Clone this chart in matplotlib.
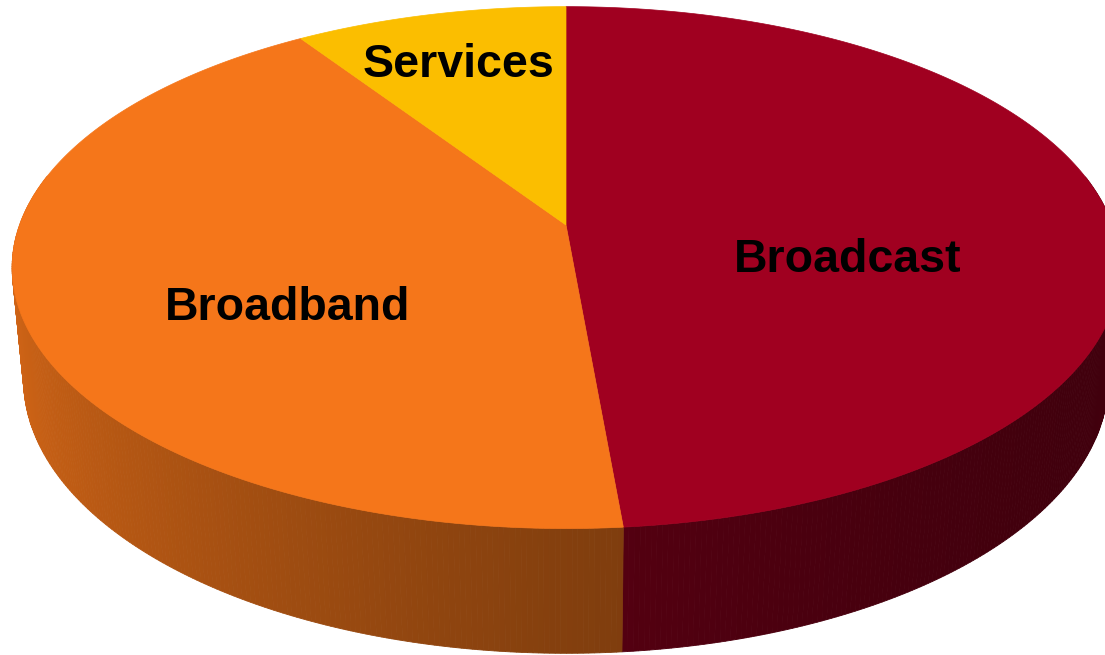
import numpy as np
import matplotlib.pyplot as plt
from matplotlib.patches import Polygon
from matplotlib.colors import to_rgb

# Slice data (share of total, %)
labels = ["Broadcast", "Broadband", "Services"]
shares = [48.6, 42.1, 9.3]
colors = ["#A00020", "#F5761A", "#FBBE00"]

# label anchor (pixel coords, baseline)
label_xy = [(848, 272), (288, 320), (459, 77)]

# 3D view settings
cx, cy = 566, 225
phi = np.radians(28)
D = 5.41
F = 2927
xscale = 1.01
h = 0.237


def proj(X, Y, Z):
    v = Y * np.sin(phi) + Z * np.cos(phi)
    w = D + Y * np.cos(phi) - Z * np.sin(phi)
    return cx + xscale * F * X / w, cy - F * v / w


def shade(t):
    f = 0.659 - 0.221 * np.cos(t) + 0.120 * np.sin(t)
    return float(np.clip(f, 0, 1))


fig = plt.figure(figsize=(11.05, 6.55), dpi=100)
ax = fig.add_axes([0, 0, 1, 1])
ax.set_xlim(0, 1105)
ax.set_ylim(655, 0)
ax.axis("off")

fracs = np.array(shares) / sum(shares)
cum = np.concatenate([[0], np.cumsum(fracs)])
starts = np.radians(90 - 360 * cum[:-1])
ends = np.radians(90 - 360 * cum[1:])

# side wall, drawn back to front
quads = []
step = np.radians(0.5)
for i in range(len(labels)):
    n = max(int(abs(starts[i] - ends[i]) / step), 2)
    t = np.linspace(ends[i], starts[i], n + 1)
    for a, b in zip(t[:-1], t[1:]):
        if np.sin((a + b) / 2) > 0.2:
            continue
        X = np.cos([a, b, b, a])
        Y = np.sin([a, b, b, a])
        Z = np.array([0, 0, -h, -h])
        px, py = proj(X, Y, Z)
        c = np.array(to_rgb(colors[i])) * shade((a + b) / 2)
        quads.append((np.sin((a + b) / 2), np.column_stack([px, py]), c))

quads.sort(key=lambda q: -q[0])
for _, pts, c in quads:
    ax.add_patch(Polygon(pts, closed=True, facecolor=c, edgecolor=c, lw=0.6))

# top faces
for i in range(len(labels)):
    t = np.linspace(ends[i], starts[i], 200)
    X = np.concatenate([[0], np.cos(t)])
    Y = np.concatenate([[0], np.sin(t)])
    px, py = proj(X, Y, np.zeros_like(X))
    ax.add_patch(Polygon(np.column_stack([px, py]), closed=True,
                         facecolor=colors[i], edgecolor=colors[i], lw=0.5))

for name, (x, y) in zip(labels, label_xy):
    ax.text(x, y, name, ha="center", va="baseline", fontsize=33.5,
            fontweight="bold", family="Liberation Sans", color="black")

fig.savefig("out.png", dpi=100)
